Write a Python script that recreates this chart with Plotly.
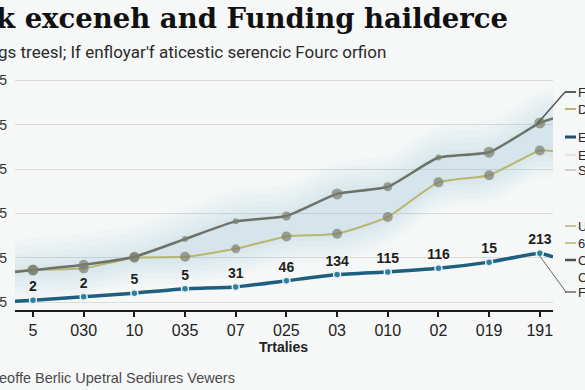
import plotly.graph_objects as go

# ---------------- data ----------------
x_labels = ["5", "030", "10", "035", "07", "025", "03", "010", "02", "019", "191"]
gray_vals = [36, 42, 51, 71, 91, 97, 122, 130, 163, 169, 202]
khaki_vals = [36, 38, 50, 51, 60, 74, 77, 96, 135, 143, 171]
blue_vals = [2, 6, 10, 15, 17, 24, 31, 34, 38, 45, 55]
blue_labels = ["2", "2", "5", "5", "31", "46", "134", "115", "116", "15", "213"]
# values where the lines enter / leave the plot edges
gray_edges = [34, 207]
khaki_edges = [35, 170]
blue_edges = [1, 51]
y_tick_vals = [0, 50, 100, 150, 200, 250]
y_tick_text = ["5", "5", "5", "5", "5", "5"]
legend_names = ["F", "D", "E", "E", "S", "U", "6", "C", "C", "F"]

title_text = "k exceneh and Funding hailderce"
subtitle_text = "gs treesl; If enfloyar'f aticestic serencic Fourc orfion"
x_title = "Trtalies"
footer_text = "eoffe Berlic Upetral Sediures Vewers"

# ---------------- layout geometry ----------------
W, H = 585, 390
L, R, T, B = 15, 32, 76, 80
X_RANGE = [-0.355, 10.26]
Y_RANGE = [-9, 255]

def px(xp):
    return (xp - L) / (W - L - R)

def py(yp):
    return (H - B - yp) / (H - T - B)

idx = list(range(len(x_labels)))
xs_full = [X_RANGE[0]] + idx + [X_RANGE[1]]

def full(vals, edges):
    return [edges[0]] + vals + [edges[1]]

gray_full = full(gray_vals, gray_edges)
khaki_full = full(khaki_vals, khaki_edges)
blue_full = full(blue_vals, blue_edges)

GRAY = "#6d7166"
KHAKI = "#b9b56c"
MARK = "#7b7d6c"
BLUE = "#1d5f7e"

fig = go.Figure()

# soft blue haze around the upper lines (several faint layers)
for up, dn in [(36, 30), (28, 24), (20, 18), (13, 12), (6, 7), (2, 2)]:
    upper = [g + up for g in gray_full]
    lower = [max(k - dn, b + 4) for k, b in zip(khaki_full, blue_full)]
    fig.add_trace(go.Scatter(x=xs_full, y=lower, mode="lines", line=dict(width=0, shape="spline"),
                             hoverinfo="skip", showlegend=False))
    fig.add_trace(go.Scatter(x=xs_full, y=upper, mode="lines", line=dict(width=0, shape="spline"),
                             fill="tonexty", fillcolor="rgba(110,170,210,0.04)",
                             hoverinfo="skip", showlegend=False))

# lines
fig.add_trace(go.Scatter(x=xs_full, y=khaki_full, mode="lines",
                         line=dict(color=KHAKI, width=2, shape="spline", smoothing=0.5),
                         hoverinfo="skip", showlegend=False))
fig.add_trace(go.Scatter(x=xs_full, y=gray_full, mode="lines",
                         line=dict(color=GRAY, width=2.5, shape="spline", smoothing=0.5),
                         hoverinfo="skip", showlegend=False))
fig.add_trace(go.Scatter(x=xs_full, y=blue_full, mode="lines",
                         line=dict(color=BLUE, width=3.5, shape="spline", smoothing=0.4),
                         hoverinfo="skip", showlegend=False))

# markers
gray_sizes = [11, 10, 10, 6, 6, 9, 11, 9, 6, 11, 11]
khaki_sizes = [10, 10, 10, 10, 9, 10, 10, 10, 10, 10, 10]
fig.add_trace(go.Scatter(x=idx, y=khaki_vals, mode="markers",
                         marker=dict(color=MARK, size=khaki_sizes, line=dict(width=0)),
                         hoverinfo="skip", showlegend=False))
fig.add_trace(go.Scatter(x=idx, y=gray_vals, mode="markers",
                         marker=dict(color=MARK, size=gray_sizes, line=dict(width=0)),
                         hoverinfo="skip", showlegend=False))
fig.add_trace(go.Scatter(x=idx, y=blue_vals, mode="markers+text",
                         marker=dict(color="#2f7f9e", size=7, line=dict(color="#e8f1f5", width=1.5)),
                         text=[f"<b>{t}</b>" for t in blue_labels], textposition="top center",
                         textfont=dict(family="Liberation Sans", size=14, color="#1e1e1e"),
                         hoverinfo="skip", cliponaxis=False, showlegend=False))

shapes = []
annotations = []

# legend (manual, clipped at the right edge)
leg_y = [92, 109, 137, 155, 170, 226, 243, 260, 277, 292]
leg_col = ["#5a5d58", "#bdb27a", "#1f4f6b", "#dedede", "#c4c4c4",
           "#c9c48f", "#c9c48f", "#4f524f", None, "#6a6a6a"]
leg_w = [2, 2, 3, 1.5, 1.5, 2, 2, 2.5, 0, 1.5]
for name, yy, col, lw in zip(legend_names, leg_y, leg_col, leg_w):
    if col:
        shapes.append(dict(type="line", xref="paper", yref="paper",
                           x0=px(565), x1=px(576), y0=py(yy), y1=py(yy),
                           line=dict(color=col, width=lw)))
    annotations.append(dict(text=name, xref="paper", yref="paper", x=px(576), y=py(yy),
                            xanchor="left", yanchor="middle", showarrow=False,
                            font=dict(family="Liberation Sans", size=13, color="#2a2a2a")))
# leader lines from legend to points
shapes.append(dict(type="line", xref="paper", yref="paper",
                   x0=px(565), y0=py(92), x1=px(537), y1=py(124),
                   line=dict(color="#555851", width=1.5)))
shapes.append(dict(type="line", xref="paper", yref="paper",
                   x0=px(566), y0=py(292), x1=px(539), y1=py(255),
                   line=dict(color="#666666", width=1)))

# titles and footer
annotations.append(dict(text=f"<b>{title_text}</b>", xref="paper", yref="paper",
                        x=px(-6), y=py(18), xanchor="left", yanchor="middle", showarrow=False,
                        font=dict(family="DejaVu Serif", size=27.5, color="#111111")))
annotations.append(dict(text=subtitle_text, xref="paper", yref="paper",
                        x=px(-4), y=py(52), xanchor="left", yanchor="middle", showarrow=False,
                        font=dict(family="Roboto", size=17, color="#2b2b2b")))
annotations.append(dict(text=f"<b>{x_title}</b>", xref="paper", yref="paper",
                        x=px(283), y=py(347), xanchor="center", yanchor="middle", showarrow=False,
                        font=dict(family="Liberation Sans", size=14, color="#222222")))
annotations.append(dict(text=footer_text, xref="paper", yref="paper",
                        x=px(-3), y=py(378), xanchor="left", yanchor="middle", showarrow=False,
                        font=dict(family="Liberation Sans", size=14.5, color="#4a4a4a")))

fig.update_layout(
    width=W, height=H,
    margin=dict(l=L, r=R, t=T, b=B, autoexpand=False),
    paper_bgcolor="#f6f7f7",
    plot_bgcolor="#f6f7f7",
    shapes=shapes,
    annotations=annotations,
    showlegend=False,
    hovermode=False,
    xaxis=dict(range=X_RANGE, tickvals=idx, ticktext=x_labels, showgrid=False, zeroline=False,
               automargin=False,
               showline=True, linecolor="#1a1a1a", linewidth=2,
               ticks="outside", ticklen=5, tickwidth=2, tickcolor="#1a1a1a",
               tickfont=dict(family="Liberation Sans", size=16, color="#222222")),
    yaxis=dict(range=Y_RANGE, tickvals=y_tick_vals, ticktext=y_tick_text, automargin=False,
               showgrid=True, gridcolor="#dadada", gridwidth=1, zeroline=False,
               ticks="", ticklabelstandoff=7,
               tickfont=dict(family="Liberation Sans", size=14, color="#333333")),
)

fig.write_html("out.html", config={"displayModeBar": False},
               post_script="document.body.style.margin='0';document.body.style.overflow='hidden';")
